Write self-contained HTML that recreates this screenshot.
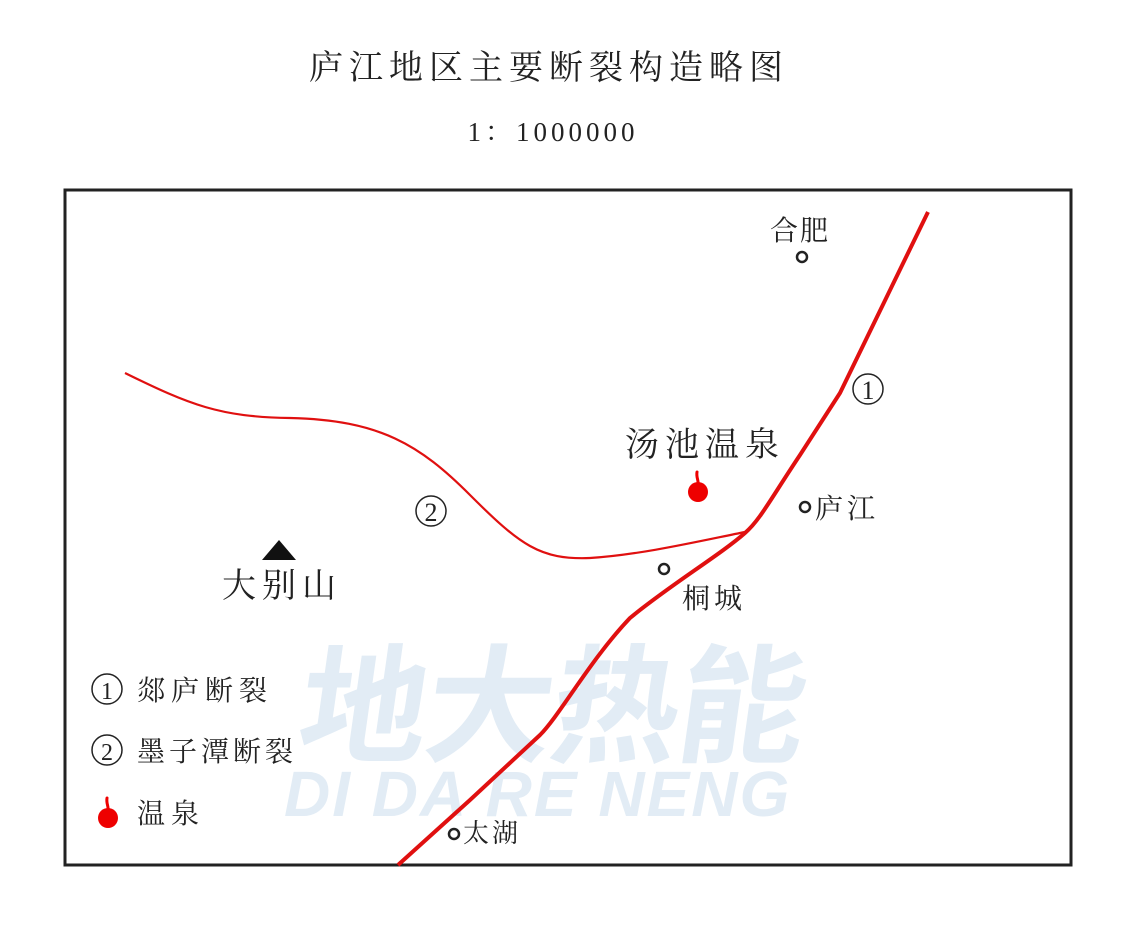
<!DOCTYPE html>
<html><head><meta charset="utf-8"><style>
html,body{margin:0;padding:0;background:#fff;}
svg{display:block;}
</style></head><body>
<svg width="1125" height="933" viewBox="0 0 1125 933" xmlns="http://www.w3.org/2000/svg">
<rect x="0" y="0" width="1125" height="933" fill="#fff"/>
<text x="549" y="79" text-anchor="middle" font-family="'Noto Serif CJK SC','Liberation Serif',serif" font-size="34" letter-spacing="6" fill="#222">庐江地区主要断裂构造略图</text>
<text x="553" y="141" text-anchor="middle" font-family="'Liberation Serif','Noto Serif CJK SC',serif" font-size="27" letter-spacing="4" fill="#222">1：1000000</text>
<rect x="65" y="190" width="1006" height="675" fill="none" stroke="#222" stroke-width="3"/>
<!-- watermark -->
<g fill="#e2ecf5" font-family="'Noto Sans CJK SC','Liberation Sans',sans-serif" font-weight="bold">
<text x="300" y="752" font-size="128" letter-spacing="-2" transform="skewX(-8) translate(100,0)">地大热能</text>
<text x="284" y="816" font-family="'Liberation Sans',sans-serif" font-size="64" font-style="italic" letter-spacing="2">DI DA RE NENG</text>
</g>
<!-- faults -->
<path d="M125,373 C190,405 220,417 290,418 C380,420 420,445 470,495 C520,545 540,560 590,558 C640,555 700,541 745,532" fill="none" stroke="#e01010" stroke-width="2.2"/>
<path d="M398,865 L470,800 L540,735 C560,715 590,660 630,618 C670,585 720,555 745,533 C760,520 770,500 800,455 L840,393 L928,212" fill="none" stroke="#e01010" stroke-width="4"/>
<g font-family="'Liberation Serif','Noto Serif CJK SC',serif" fill="#222">
<circle cx="868" cy="389" r="15" fill="none" stroke="#222" stroke-width="1.5"/><text x="868" y="399" text-anchor="middle" font-size="26">1</text>
<circle cx="431" cy="511" r="15" fill="none" stroke="#222" stroke-width="1.5"/><text x="431" y="521" text-anchor="middle" font-size="26">2</text>
<circle cx="107" cy="689" r="15" fill="none" stroke="#222" stroke-width="1.5"/><text x="107" y="699" text-anchor="middle" font-size="24">1</text>
<circle cx="107" cy="750" r="15" fill="none" stroke="#222" stroke-width="1.5"/><text x="107" y="760" text-anchor="middle" font-size="24">2</text>
</g>
<g font-family="'Noto Serif CJK SC','Liberation Serif',serif" fill="#222">
<text x="770" y="240" font-size="28" letter-spacing="2">合肥</text>
<text x="625" y="456" font-size="34" letter-spacing="6">汤池温泉</text>
<text x="815" y="518" font-size="28" letter-spacing="4">庐江</text>
<text x="682" y="608" font-size="28" letter-spacing="4">桐城</text>
<text x="222" y="597" font-size="34" letter-spacing="6">大别山</text>
<text x="463" y="842" font-size="26" letter-spacing="3">太湖</text>
<text x="137" y="700" font-size="28" letter-spacing="6">郯庐断裂</text>
<text x="137" y="761" font-size="28" letter-spacing="4">墨子潭断裂</text>
<text x="137" y="823" font-size="28" letter-spacing="6">温泉</text>
</g>
<g fill="#fff" stroke="#222" stroke-width="2.5">
<circle cx="802" cy="257" r="5"/><circle cx="805" cy="507" r="5"/><circle cx="664" cy="569" r="5"/><circle cx="454" cy="834" r="5"/>
</g>
<polygon points="279,540 262,560 296,560" fill="#111"/>
<g fill="#e00" stroke="#e00">
<circle cx="698" cy="492" r="10" stroke="none"/><path d="M697,472 C696,478 699,480 698,486" fill="none" stroke-width="3" stroke-linecap="round"/>
<circle cx="108" cy="818" r="10" stroke="none"/><path d="M107,798 C106,804 109,806 108,812" fill="none" stroke-width="3" stroke-linecap="round"/>
</g>
</svg>
</body></html>
